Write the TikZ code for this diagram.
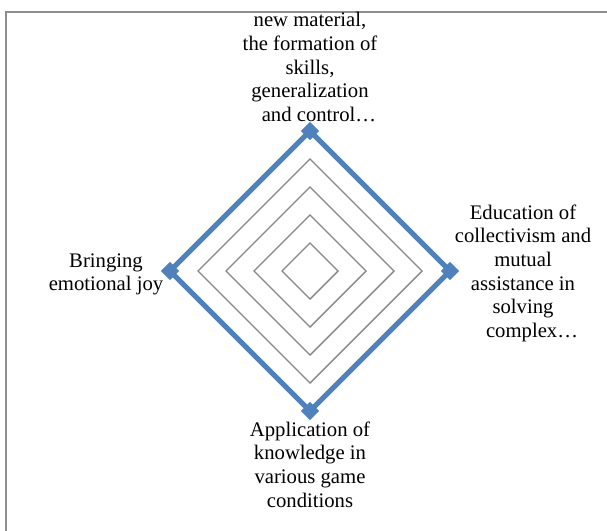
\documentclass[tikz,border=0pt]{standalone}
\usepackage{fontspec}
\setmainfont{Liberation Serif}
\usetikzlibrary{calc}
\definecolor{seriesblue}{HTML}{4F81BD}
\definecolor{gridgray}{HTML}{868686}
\definecolor{framegray}{HTML}{8E8E8E}
\tikzset{
  gridline/.style={draw=gridgray, line width=1.4pt},
  seriesline/.style={draw=seriesblue, line width=5pt, line join=miter},
  markerbox/.style={fill=seriesblue, draw=none, shape=rectangle, rotate=45,
    minimum size=13pt, inner sep=0pt},
  axislabel/.style={align=center, inner sep=0pt, anchor=north,
    font=\fontsize{20.7}{23.6}\selectfont, text=black},
  framepart/.style={draw=framegray, line width=2pt},
}
\newcommand{\firstline}{\rule{0pt}{15pt}}
\begin{document}
\begin{tikzpicture}[x=1pt, y=-1pt]
\useasboundingbox (0,0) rectangle (607,530);
% open frame
\coordinate (fbl) at (6,531);
\coordinate (ftl) at (6,11.7);
\coordinate (ftr) at (608,11.7);
\draw[framepart] (fbl) -- (ftl) -- (ftr);
% centre and grid
\coordinate (c) at (310,271);
\foreach \r in {28,56,84,112,140}{
  \draw[gridline] ($(c)+(0,-\r)$) -- ($(c)+(\r,0)$) -- ($(c)+(0,\r)$) -- ($(c)+(-\r,0)$) -- cycle;
}
% series vertices
\coordinate (vt) at (310,131);
\coordinate (vr) at (450,271);
\coordinate (vb) at (310,411);
\coordinate (vl) at (170,271);
\draw[seriesline] (vt) -- (vr) -- (vb) -- (vl) -- cycle;
\node[markerbox] (mt) at (vt) {};
\node[markerbox] (mr) at (vr) {};
\node[markerbox] (mb) at (vb) {};
\node[markerbox] (ml) at (vl) {};
% labels
\node[axislabel] (lt) at (310,11.7) {\firstline new material,\\the formation of\\skills,\\generalization\\\hspace*{18pt}and control…};
\node[axislabel] (lr) at (523,204) {\firstline Education of\\collectivism and\\mutual\\assistance in\\solving\\\hspace*{18pt}complex…};
\node[axislabel] (lb) at (310,421) {\firstline Application of\\knowledge in\\various game\\conditions};
\node[axislabel] (ll) at (106,252) {\firstline Bringing\\emotional joy};
\end{tikzpicture}
\end{document}
